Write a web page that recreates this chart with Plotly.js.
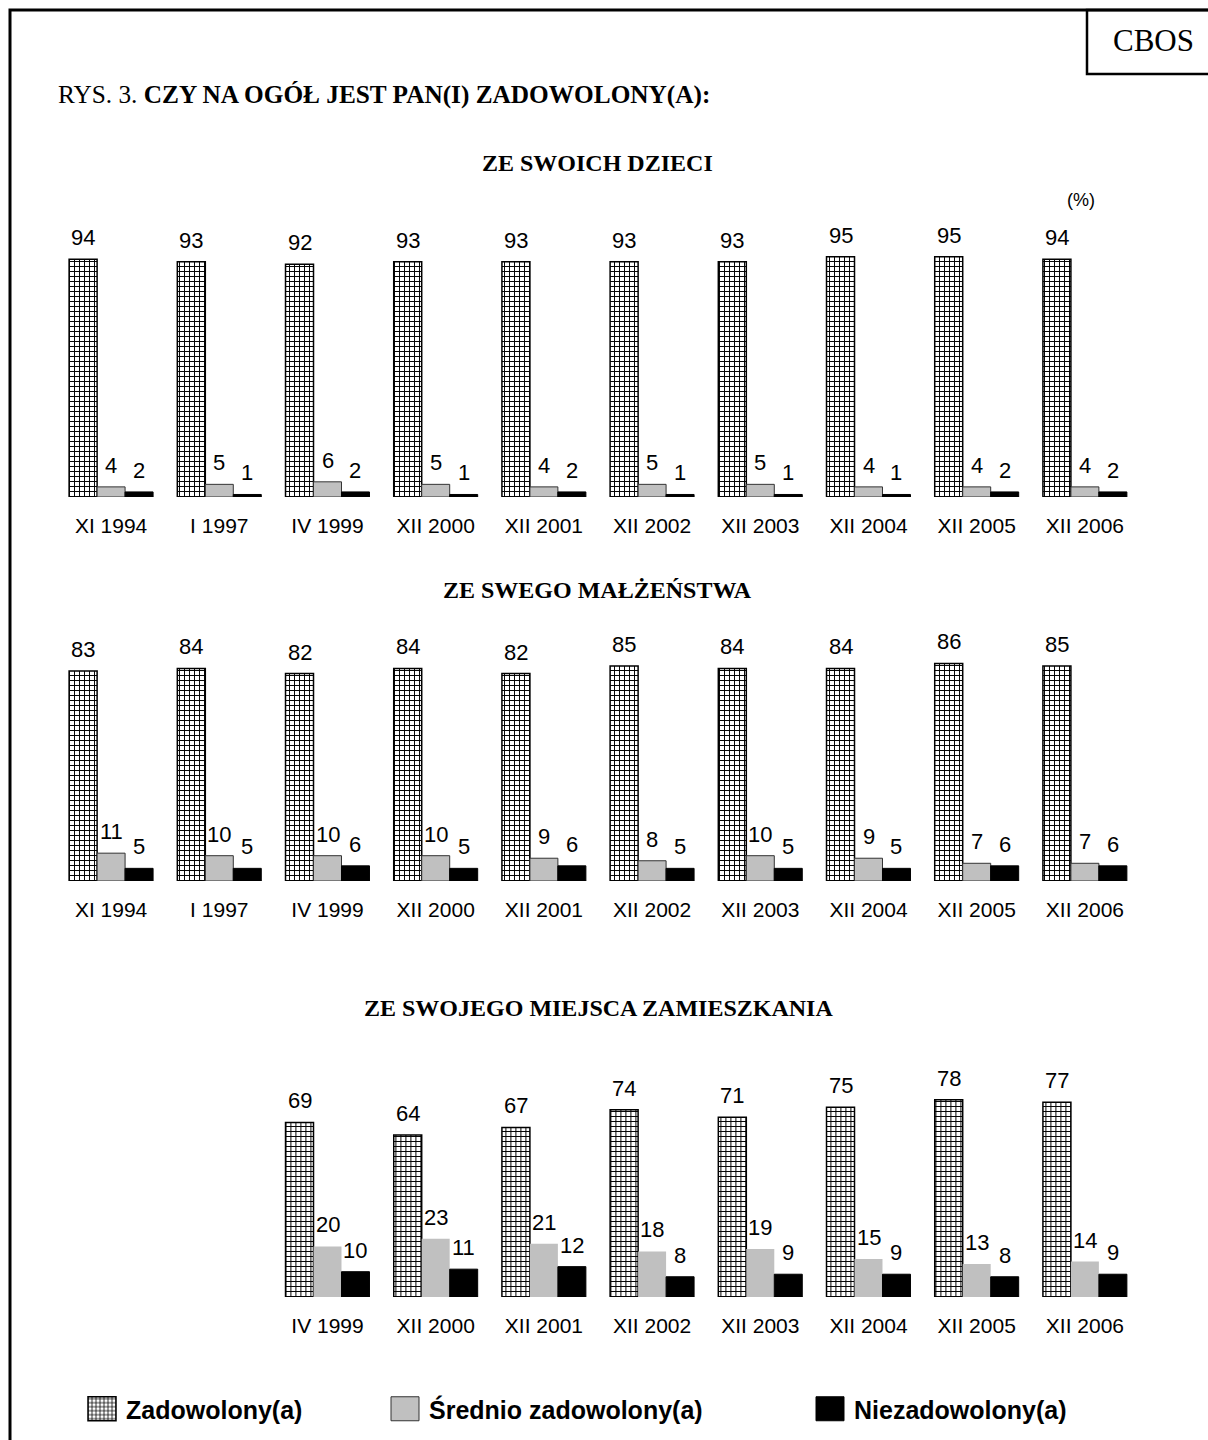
<!DOCTYPE html>
<html>
<head>
<meta charset="utf-8">
<script src="https://cdn.plot.ly/plotly-3.0.1.min.js"></script>
<style>
  html, body { margin: 0; padding: 0; background: #fff; }
  #chart { width: 1208px; height: 1440px; }
</style>
</head>
<body>
<div id="chart"></div>
<script>
// ---------- DATA ----------
const categoriesA = ['XI 1994','I 1997','IV 1999','XII 2000','XII 2001','XII 2002','XII 2003','XII 2004','XII 2005','XII 2006'];
const categoriesB = ['IV 1999','XII 2000','XII 2001','XII 2002','XII 2003','XII 2004','XII 2005','XII 2006'];

const seriesNames = ['Zadowolony(a)', 'Średnio zadowolony(a)', 'Niezadowolony(a)'];

const dzieciZad  = [94, 93, 92, 93, 93, 93, 93, 95, 95, 94];
const dzieciSred = [4, 5, 6, 5, 4, 5, 5, 4, 4, 4];
const dzieciNie  = [2, 1, 2, 1, 2, 1, 1, 1, 2, 2];

const malzZad  = [83, 84, 82, 84, 82, 85, 84, 84, 86, 85];
const malzSred = [11, 10, 10, 10, 9, 8, 10, 9, 7, 7];
const malzNie  = [5, 5, 6, 5, 6, 5, 5, 5, 6, 6];

const miejZad  = [69, 64, 67, 74, 71, 75, 78, 77];
const miejSred = [20, 23, 21, 18, 19, 15, 13, 14];
const miejNie  = [10, 11, 12, 8, 9, 9, 8, 9];

const panelTitles = ['ZE SWOICH DZIECI', 'ZE SWEGO MAŁŻEŃSTWA', 'ZE SWOJEGO MIEJSCA ZAMIESZKANIA'];

// ---------- STYLE ----------
const W = 1208, H = 1440;
const SANS = 'Liberation Sans, Arial, sans-serif';
const SERIF = 'Liberation Serif, Times New Roman, serif';
const BARGAP = 0.224;
const px = v => v / W;
const py = v => 1 - v / H;

const markers = [
  { color: '#ffffff', pattern: { shape: '+', fgcolor: '#000000', bgcolor: '#ffffff', size: 5, solidity: 0.35 }, line: { color: '#000000', width: 1.5 } },
  { color: '#c0c0c0', line: { color: '#333333', width: 1 } },
  { color: '#000000', line: { color: '#000000', width: 1 } }
];

const panels = [
  { cats: categoriesA, vals: [dzieciZad, dzieciSred, dzieciNie], ax: '', xdom: [px(57), px(1139)], ydom: [py(497), py(244)] },
  { cats: categoriesA, vals: [malzZad, malzSred, malzNie], ax: '2', xdom: [px(57), px(1139)], ydom: [py(881), py(628)] },
  { cats: categoriesB, vals: [miejZad, miejSred, miejNie], ax: '3', xdom: [px(273.4), px(1139)], ydom: [py(1297), py(1044)] }
];

const legendIds = ['legend', 'legend2', 'legend3'];

const traces = [];
const annotations = [];
const layout = {
  width: W, height: H,
  margin: { l: 0, r: 0, t: 0, b: 0 },
  paper_bgcolor: '#ffffff', plot_bgcolor: 'rgba(0,0,0,0)',
  barmode: 'group', bargap: BARGAP, bargroupgap: 0,
  font: { family: SANS, color: '#000000' },
  title: {
    text: 'RYS. 3. <b>CZY NA OGÓŁ JEST PAN(I) ZADOWOLONY(A):</b>',
    font: { family: SERIF, size: 25.3, color: '#000000' },
    xref: 'paper', yref: 'paper', x: px(58), xanchor: 'left', y: py(94), yanchor: 'middle'
  },
  shapes: [
    { type: 'rect', xref: 'paper', yref: 'paper', x0: px(10), x1: 1.05, y0: py(10), y1: -0.05, line: { color: '#000', width: 3 } },
    { type: 'rect', xref: 'paper', yref: 'paper', x0: px(1087), x1: 1.05, y0: py(10), y1: py(74), line: { color: '#000', width: 2.5 } }
  ],
  annotations: annotations
};

const groupW = (1 - BARGAP) / 3;

panels.forEach((p, pi) => {
  const xa = 'x' + p.ax, ya = 'y' + p.ax;
  p.vals.forEach((vals, si) => {
    const m = JSON.parse(JSON.stringify(markers[si]));
    if (pi === 2 && si === 1) m.line = { color: '#c0c0c0', width: 0 };
    const tr = {
      type: 'bar', x: p.cats, y: vals, name: seriesNames[si],
      xaxis: xa, yaxis: ya, marker: m,
      showlegend: pi === 0, hoverinfo: 'skip'
    };
    if (pi === 0) tr.legend = legendIds[si];
    traces.push(tr);
    vals.forEach((v, ci) => {
      annotations.push({
        xref: xa, yref: ya, x: ci + (si - 1) * groupW, y: v,
        text: String(v), showarrow: false, yanchor: 'bottom', xanchor: 'center', yshift: 7,
        font: { family: SANS, size: 22, color: '#000' }
      });
    });
  });
  const axKeyX = 'xaxis' + p.ax, axKeyY = 'yaxis' + p.ax;
  layout[axKeyX] = {
    domain: p.xdom, anchor: ya, type: 'category',
    showgrid: false, zeroline: false, showline: false, ticks: '',
    ticklabelstandoff: 14,
    tickfont: { family: SANS, size: 21, color: '#000' }, fixedrange: true
  };
  layout[axKeyY] = { domain: p.ydom, anchor: xa, range: [0, 100], visible: false, fixedrange: true };
});

// panel titles
const titlePos = [[597, 163], [597, 590], [598, 1008]];
panelTitles.forEach((t, i) => {
  annotations.push({
    xref: 'paper', yref: 'paper', x: px(titlePos[i][0]), y: py(titlePos[i][1]),
    text: '<b>' + t + '</b>', showarrow: false, xanchor: 'center', yanchor: 'middle',
    font: { family: SERIF, size: 24, color: '#000' }
  });
});
annotations.push({
  xref: 'paper', yref: 'paper', x: px(1153), y: py(40), text: 'CBOS', showarrow: false,
  xanchor: 'center', yanchor: 'middle', font: { family: SERIF, size: 31, color: '#000' }
});
annotations.push({
  xref: 'paper', yref: 'paper', x: px(1081), y: py(200), text: '(%)', showarrow: false,
  xanchor: 'center', yanchor: 'middle', font: { family: SANS, size: 18, color: '#000' }
});

// legends
const legendX = [78, 381, 806];
legendIds.forEach((id, i) => {
  layout[id] = {
    x: px(legendX[i]), xanchor: 'left', y: py(1409), yanchor: 'middle',
    orientation: 'h', bgcolor: 'rgba(0,0,0,0)', borderwidth: 0, itemwidth: 38,
    font: { family: SANS, size: 25, weight: 'bold', color: '#000' },
    itemclick: false, itemdoubleclick: false
  };
});

Plotly.newPlot('chart', traces, layout, { staticPlot: true, displayModeBar: false }).then(gd => {
  document.querySelectorAll('.legendpoints path').forEach(p => {
    p.setAttribute('d', 'M14,12H-14V-12H14Z');
  });
});
</script>
</body>
</html>
